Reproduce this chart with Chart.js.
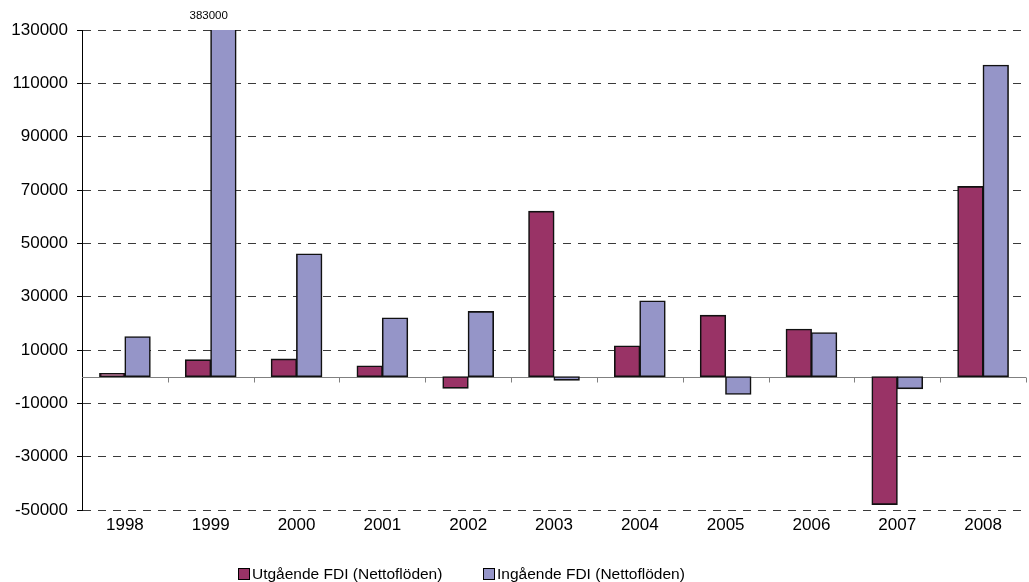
<!DOCTYPE html>
<html>
<head>
<meta charset="utf-8">
<script src="https://cdn.jsdelivr.net/npm/chart.js@4/dist/chart.umd.min.js"></script>
<style>
  body { margin: 0; background: #fff; }
  #wrap { position: relative; width: 1029px; height: 582px; }
  .legend { position: absolute; top: 565px; font: 15.5px "Liberation Sans", Arial, sans-serif; color: #000; white-space: nowrap; }
  .legend i { display: inline-block; border: 1px solid #000; margin-right: 2px; vertical-align: -1px; box-sizing: border-box; width: 12px; height: 12px; }
</style>
</head>
<body>
<div id="wrap">
  <canvas id="chart"></canvas>
  <div class="legend" style="left:238px"><i style="background:#993366"></i>Utgående FDI (Nettoflöden)</div>
  <div class="legend" style="left:483px"><i style="background:#9595c8"></i>Ingående FDI (Nettoflöden)</div>
</div>
<script>
const years = ["1998", "1999", "2000", "2001", "2002", "2003", "2004", "2005", "2006", "2007", "2008"];
const outgoing = [1200, 6300, 6600, 4000, -4300, 62000, 11500, 23000, 17800, -47900, 71300];
const incoming = [15000, 383000, 46000, 22000, 24400, -1300, 28400, -6600, 16500, -4500, 116800];
const yMin = -50000;
const yMax = 130000;
const yStep = 20000;

const FONT = '"Liberation Sans", Arial, sans-serif';

// zero line, x tick marks and the label for the clipped 1999 bar
const extras = {
    id: "extras",
    beforeDatasetsDraw(chart) {
        const { ctx, chartArea, scales: { x, y } } = chart;
        const y0 = Math.round(y.getPixelForValue(0)) + 0.5;
        ctx.save();
        ctx.strokeStyle = "#808080";
        ctx.lineWidth = 1;
        ctx.beginPath();
        ctx.moveTo(chartArea.left, y0);
        ctx.lineTo(chartArea.right, y0);
        for (let i = 0; i < years.length; i++) {
            const bx = Math.round((x.getPixelForValue(i) + x.getPixelForValue(i + 1)) / 2) + 0.5;
            ctx.moveTo(bx, y0);
            ctx.lineTo(bx, y0 + 5);
        }
        ctx.stroke();
        ctx.restore();
    },
    afterDraw(chart) {
        const { ctx, scales: { x } } = chart;
        incoming.forEach((v, i) => {
            if (v > yMax) {
                ctx.save();
                ctx.font = "11.5px " + FONT;
                ctx.fillStyle = "#000";
                ctx.textAlign = "center";
                ctx.textBaseline = "middle";
                ctx.fillText(String(v), x.getPixelForValue(i) - 2, 16);
                ctx.restore();
            }
        });
    }
};

new Chart(document.getElementById("chart"), {
    type: "bar",
    data: {
        labels: years,
        datasets: [
            {
                label: "Utgående FDI (Nettoflöden)",
                data: outgoing,
                backgroundColor: "#993366",
                borderColor: "#111",
                borderWidth: 1.6,
                borderSkipped: false,
                inflateAmount: 0.5,
                clip: 0
            },
            {
                label: "Ingående FDI (Nettoflöden)",
                data: incoming,
                backgroundColor: "#9595c8",
                borderColor: "#111",
                borderWidth: 1.6,
                borderSkipped: false,
                inflateAmount: 0.5,
                clip: 0
            }
        ]
    },
    options: {
        responsive: true,
        maintainAspectRatio: false,
        animation: false,
        datasets: { bar: { categoryPercentage: 0.59, barPercentage: 1.0 } },
        layout: { padding: { top: 30, right: 3, bottom: 40, left: 0 } },
        plugins: {
            legend: { display: false },
            tooltip: { enabled: false }
        },
        scales: {
            x: {
                grid: { display: false, drawTicks: false },
                border: { display: false },
                ticks: { color: "#000", font: { family: FONT, size: 17 }, padding: 5, maxRotation: 0 },
                afterFit(scale) { scale.height = 32; }
            },
            y: {
                min: yMin,
                max: yMax,
                ticks: { stepSize: yStep, color: "#000", font: { family: FONT, size: 17 }, padding: 9,
                    callback: (v) => String(v) },
                grid: { color: "#3a3a3a", lineWidth: 1, tickLength: 5, tickColor: "#000", tickBorderDash: [] },
                border: { display: true, color: "#000", width: 1, dash: [8, 7] },
                afterFit(scale) { scale.width = 82; }
            }
        }
    },
    plugins: [extras]
});
</script>
</body>
</html>
